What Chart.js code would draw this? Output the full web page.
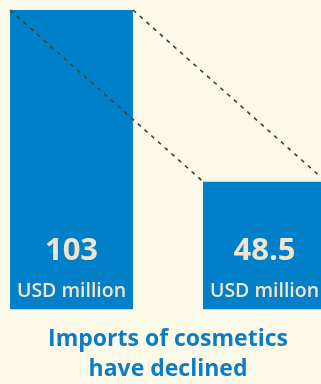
<!DOCTYPE html>
<html>
<head>
<meta charset="utf-8">
<script src="https://cdn.jsdelivr.net/npm/chart.js@4/dist/chart.umd.min.js"></script>
<style>
  html, body { margin: 0; padding: 0; background: #fdf9e8; overflow: hidden; }
  body { width: 321px; height: 384px; position: relative; }
  #wrap { position: absolute; left: -25px; top: 0; width: 386px; height: 384px; }
</style>
</head>
<body>
<div id="wrap"><canvas id="canvas"></canvas></div>
<script>
var years = ["Before", "After"];
var imports = [103, 48.5];
var unitLabel = "USD million";
var titleLines = ["Imports of cosmetics", "have declined"];

var BLUE = "#0080c8";
var CREAM = "#f3e4cf";

// dashed lines joining the tops of the two bars
var connectors = {
  id: "connectors",
  afterDatasetsDraw: function (chart) {
    var bars = chart.getDatasetMeta(0).data;
    if (bars.length < 2) return;
    var a = bars[0], b = bars[1];
    var ctx = chart.ctx;
    ctx.save();
    ctx.strokeStyle = "#3d3d3b";
    ctx.lineWidth = 1.6;
    ctx.setLineDash([4, 5]);
    ctx.beginPath();
    ctx.moveTo(a.x - a.width / 2, a.y);
    ctx.lineTo(b.x - b.width / 2, b.y);
    ctx.moveTo(a.x + a.width / 2, a.y);
    ctx.lineTo(b.x + b.width / 2, b.y);
    ctx.stroke();
    ctx.restore();
  }
};

// value and unit written inside each bar near its base
var valueLabels = {
  id: "valueLabels",
  afterDatasetsDraw: function (chart) {
    var ctx = chart.ctx;
    var meta = chart.getDatasetMeta(0);
    var bottom = chart.chartArea.bottom;
    ctx.save();
    ctx.fillStyle = CREAM;
    ctx.textAlign = "center";
    ctx.textBaseline = "alphabetic";
    meta.data.forEach(function (bar, i) {
      ctx.font = "bold 31px 'Open Sans'";
      ctx.fillText(String(imports[i]), bar.x, bottom - 49);
      ctx.font = "600 19.5px 'Open Sans'";
      ctx.fillText(unitLabel, bar.x, bottom - 12);
    });
    ctx.restore();
  }
};

new Chart("canvas", {
  type: "bar",
  data: {
    labels: years,
    datasets: [{
      data: imports,
      backgroundColor: BLUE,
      borderWidth: 0,
      categoryPercentage: 1,
      barPercentage: 0.637
    }]
  },
  options: {
    responsive: true,
    maintainAspectRatio: false,
    animation: false,
    layout: { padding: { top: 10, left: 0, right: 0, bottom: 0 } },
    scales: {
      x: { display: false },
      y: { display: false, min: 8, max: 103 }
    },
    plugins: {
      legend: { display: false },
      tooltip: { enabled: false },
      title: {
        display: true,
        position: "bottom",
        text: titleLines,
        color: "#0a7dc5",
        font: { family: "'Open Sans'", size: 23, weight: "bold", lineHeight: 1.3 },
        padding: { top: 15, bottom: 0 }
      }
    }
  },
  plugins: [connectors, valueLabels]
});
</script>
</body>
</html>
